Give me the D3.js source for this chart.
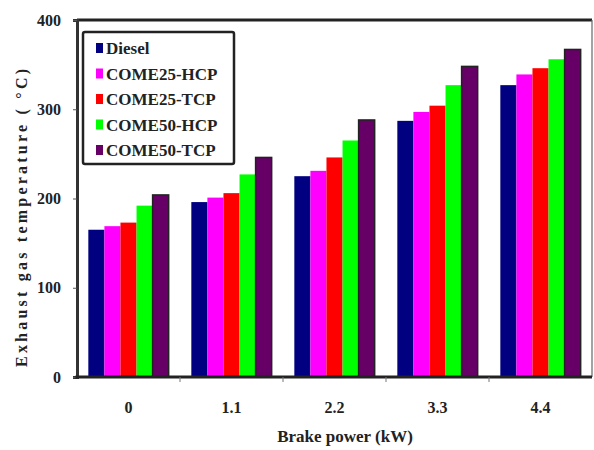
<!DOCTYPE html>
<html>
<head>
<meta charset="utf-8">
<script src="https://cdn.jsdelivr.net/npm/d3@7"></script>
</head>
<body style="margin:0">
<svg id="chart" width="594" height="450" font-family="Liberation Serif" font-weight="bold"></svg>
<script>
// brake power groups
const loads = ["0", "1.1", "2.2", "3.3", "4.4"];
const fuels = ["Diesel", "COME25-HCP", "COME25-TCP", "COME50-HCP", "COME50-TCP"];
const fuelColors = ["#000080", "#ff00ff", "#ff0000", "#00ff00", "#660066"];

// exhaust gas temperature per fuel, one value per load
const diesel   = [165, 196, 225, 287, 327];
const come25h  = [169, 201, 231, 297, 339];
const come25t  = [173, 206, 246, 304, 346];
const come50h  = [192, 227, 265, 327, 356];
const come50t  = [204, 246, 288, 348, 367];

const yTicks = [0, 100, 200, 300, 400];

const series = [diesel, come25h, come25t, come50h, come50t];

const svg = d3.select("#chart");
const pLeft = 77, pRight = 592, pTop = 20, pBottom = 377;

const x = d3.scaleBand()
  .domain(loads)
  .range([pLeft, pRight])
  .paddingInner(0.22)
  .paddingOuter(0.11);

const xs = d3.scaleBand()
  .domain(fuels)
  .range([0, x.bandwidth()]);

const y = d3.scaleLinear()
  .domain([0, 400])
  .range([pBottom, pTop]);

// bars
const rows = [];
loads.forEach((l, i) => {
  fuels.forEach((f, j) => {
    rows.push({ load: l, fuel: f, value: series[j][i], color: fuelColors[j] });
  });
});

svg.append("g").selectAll("rect")
  .data(rows)
  .enter()
  .append("rect")
  .attr("x", d => x(d.load) + xs(d.fuel))
  .attr("y", d => y(d.value))
  .attr("width", xs.bandwidth())
  .attr("height", d => y(0) - y(d.value))
  .attr("fill", d => d.color)
  .attr("stroke", d => d.fuel === "COME50-TCP" ? "#222" : "none")
  .attr("stroke-width", 1.5);

// frame: top and right
svg.append("line")
  .attr("x1", pLeft).attr("x2", pRight)
  .attr("y1", pTop).attr("y2", pTop)
  .attr("stroke", "#222").attr("stroke-width", 3);
svg.append("line")
  .attr("x1", pRight).attr("x2", pRight)
  .attr("y1", pTop).attr("y2", pBottom)
  .attr("stroke", "#666").attr("stroke-width", 1.2);

// y axis
const yAxis = svg.append("g")
  .attr("transform", `translate(${pLeft},0)`)
  .call(d3.axisLeft(y).tickValues(yTicks).tickSize(4).tickPadding(12));
yAxis.attr("font-family", "Liberation Serif").attr("font-size", 16);
yAxis.select(".domain").attr("stroke", "#333").attr("stroke-width", 3);
yAxis.selectAll(".tick line").attr("stroke", "#555");

// x axis: ticks sit between groups
const bounds = d3.range(loads.length + 1).map(i => pLeft + i * x.step());
const xAxis = svg.append("g")
  .attr("transform", `translate(0,${pBottom})`);
xAxis.append("line")
  .attr("x1", pLeft - 1.5).attr("x2", pRight)
  .attr("stroke", "#222").attr("stroke-width", 3);
xAxis.selectAll(".tk")
  .data(bounds.slice(1, -1))
  .enter()
  .append("line")
  .attr("x1", d => d).attr("x2", d => d)
  .attr("y1", 0).attr("y2", 5)
  .attr("stroke", "#777");
xAxis.selectAll(".lbl")
  .data(loads)
  .enter()
  .append("text")
  .attr("x", d => x(d) + x.bandwidth() / 2)
  .attr("y", 36)
  .attr("text-anchor", "middle")
  .attr("font-size", 16)
  .text(d => d);

// axis titles
svg.append("text")
  .attr("x", 345)
  .attr("y", 442)
  .attr("text-anchor", "middle")
  .attr("font-size", 17)
  .text("Brake power (kW)");

svg.append("text")
  .attr("transform", "translate(27,218) rotate(-90)")
  .attr("text-anchor", "middle")
  .attr("textLength", 298)
  .attr("lengthAdjust", "spacing")
  .attr("font-size", 16)
  .text("Exhaust gas temperature ( °C)");

// legend
const legend = svg.append("g");
legend.append("rect")
  .attr("x", 83).attr("y", 32)
  .attr("width", 151).attr("height", 132)
  .attr("rx", 2)
  .attr("fill", "#fff")
  .attr("stroke", "#222").attr("stroke-width", 2.5);

const items = legend.selectAll(".item")
  .data(fuels)
  .enter()
  .append("g")
  .attr("transform", (d, i) => `translate(96,${48 + i * 25.5})`);
items.append("rect")
  .attr("x", 0).attr("y", -5)
  .attr("width", 7).attr("height", 10)
  .attr("fill", (d, i) => fuelColors[i]);
items.append("text")
  .attr("x", 10)
  .attr("y", 6)
  .attr("font-size", 17)
  .text(d => d);

svg.selectAll("text")
  .attr("font-family", "Liberation Serif")
  .attr("font-weight", "bold")
  .attr("fill", "#222");
</script>
</body>
</html>
